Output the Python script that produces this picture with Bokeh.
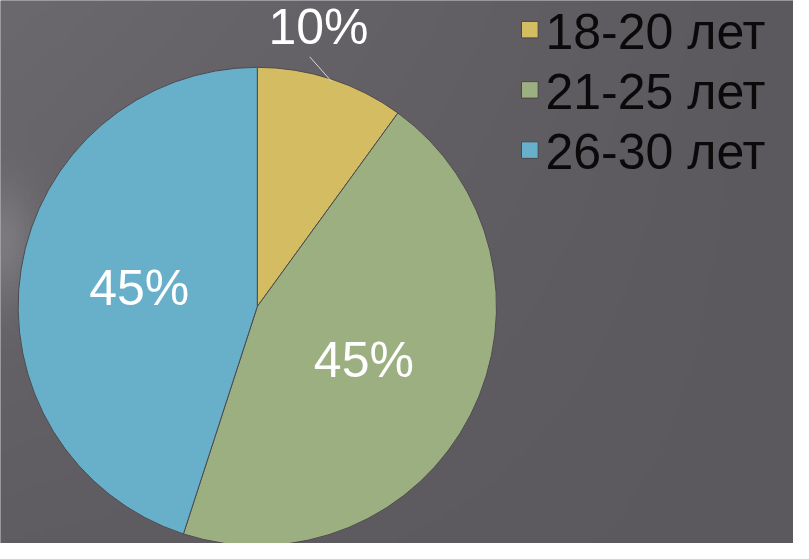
import math
import numpy as np
from bokeh.plotting import figure
from bokeh.models import Range1d, ColumnDataSource
from bokeh.core.properties import value
from bokeh.embed import file_html
from bokeh.resources import INLINE

# ---- data ----
categories = ["18-20 лет", "21-25 лет", "26-30 лет"]
shares = [10, 45, 45]
labels = ["10%", "45%", "45%"]
colors = ["#d4bc62", "#9caf80", "#68b0c9"]

W, H = 793, 543          # figure size in px (fits 809x559 window with 8px margin)
RW, RH = 809, 559        # reference canvas units
BG = "#5d5a60"
FONT = "Liberation Sans"

p = figure(width=W, height=H, output_backend="svg", toolbar_location=None,
           x_range=Range1d(0, RW), y_range=Range1d(0, RH), min_border=0,
           background_fill_color=BG, border_fill_color=BG)
p.axis.visible = False
p.grid.visible = False
p.outline_line_color = None

# subtle slide-style background shading (decoration only)
gw, gh = 162, 112
gx = np.linspace(0, 1, gw)[None, :]
gy = np.linspace(0, 1, gh)[:, None]          # 0 = bottom, 1 = top
light = 12 * (1 - gx) * gy + 4 * (1 - gx)
streak = 22 * np.exp(-((gx * 809) / 35) ** 2) * np.exp(-(((1 - gy) * 559 - 250) / 60) ** 2)
light = light + streak
base = np.array([0x5b, 0x58, 0x5e], dtype=float)
img = np.empty((gh, gw), dtype=np.uint32)
view = img.view(dtype=np.uint8).reshape((gh, gw, 4))
for c in range(3):
    view[:, :, c] = np.clip(base[c] + light, 0, 255).astype(np.uint8)
view[:, :, 3] = 255
p.image_rgba(image=[img], x=0, y=0, dw=RW, dh=RH)

# pie geometry
cx, cy, R = 262, 244, 244

total = float(sum(shares))
starts, ends, mids = [], [], []
acc = 0.0
for s in shares:
    a0 = math.pi / 2 - 2 * math.pi * acc / total
    acc += s
    a1 = math.pi / 2 - 2 * math.pi * acc / total
    starts.append(a0)
    ends.append(a1)
    mids.append((a0 + a1) / 2)

src = ColumnDataSource(dict(x=[cx] * 3, y=[cy] * 3, start=starts, end=ends,
                            color=colors, cat=categories))
p.wedge(x="x", y="y", radius=R, start_angle="start", end_angle="end",
        direction="clock", fill_color="color", line_color="#4e4a4f",
        line_width=1, source=src)

# data labels
in_x, in_y, in_t = [], [], []
for i, (lab, m) in enumerate(zip(labels, mids)):
    ex, ey = cx + R * math.cos(m), cy + R * math.sin(m)
    if shares[i] < 20:
        # outside label with leader line
        p.segment(x0=[ex], y0=[ey], x1=[ex - 22], y1=[ey + 25],
                  line_color="#d8d8d8", line_width=1)
        p.text(x=[ex - 13], y=[ey + 56], text=[lab], text_color="white",
               text_font=value(FONT), text_font_size="50px",
               text_align="center", text_baseline="middle")
    else:
        in_x.append(cx + 0.5 * R * math.cos(m))
        in_y.append(cy + 0.5 * R * math.sin(m))
        in_t.append(lab)
p.text(x=in_x, y=in_y, text=in_t, text_color="white",
       text_font=value(FONT), text_font_size="50px",
       text_align="center", text_baseline="middle")

# legend (manual)
lx, ly0, step = 540, 529, 62
lys = [ly0 - i * step for i in range(len(categories))]
p.rect(x=[lx] * 3, y=lys, width=17, height=17, fill_color=colors,
       line_color="#4a464b", line_width=1)
p.text(x=[lx + 16] * 3, y=[y - 2 for y in lys], text=categories,
       text_color="#0a0a0a", text_font=value(FONT), text_font_size="50px",
       text_align="left", text_baseline="middle")

open("out.html", "w").write(file_html(p, INLINE))
